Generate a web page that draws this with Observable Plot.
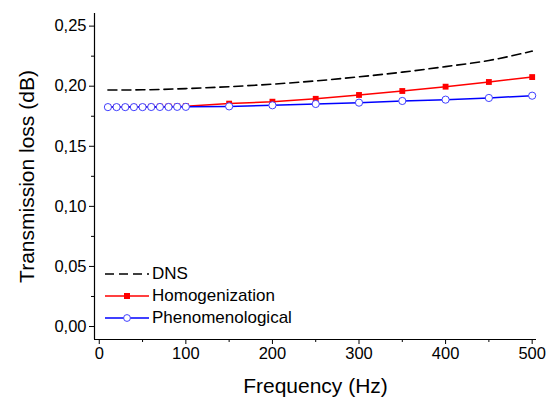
<!DOCTYPE html>
<html>
<head>
<meta charset="utf-8">
<script src="https://cdn.jsdelivr.net/npm/d3@7"></script>
<script src="https://cdn.jsdelivr.net/npm/@observablehq/plot@0.6"></script>
<style>
  html, body { margin: 0; padding: 0; background: #fff; }
  #wrap { position: relative; width: 555px; height: 403px; font-family: "Liberation Sans", Arial, sans-serif; }
  #legend { position: absolute; left: 104px; top: 262.5px; font-size: 17px; color: #000; }
  #legend .row { display: flex; align-items: center; height: 22px; }
  #legend svg { display: block; margin-right: 2px; }
</style>
</head>
<body>
<div id="wrap"></div>
<script>
// ---- data ----
const freq = [10, 20, 30, 40, 50, 60, 70, 80, 90, 100, 150, 200, 250, 300, 350, 400, 450, 500];
const homogenization = [0.1827, 0.1827, 0.1827, 0.1828, 0.1828, 0.1829, 0.1830, 0.1831, 0.1832, 0.1834, 0.1855, 0.1871, 0.1895, 0.1927, 0.1960, 0.1996, 0.2035, 0.2076];
const phenomenological = [0.1826, 0.1826, 0.1826, 0.1826, 0.1826, 0.1827, 0.1827, 0.1827, 0.1828, 0.1828, 0.1832, 0.1841, 0.1852, 0.1863, 0.1877, 0.1888, 0.1902, 0.1921];
const dnsFreq = [10, 50, 100, 150, 200, 250, 300, 350, 400, 450, 500];
const dns = [0.1968, 0.1970, 0.1980, 0.1996, 0.2017, 0.2044, 0.2078, 0.2117, 0.2163, 0.2214, 0.2292];
const xTicks = [0, 100, 200, 300, 400, 500];
const xMinor = [50, 150, 250, 350, 450];
const yTicks = [0, 0.05, 0.10, 0.15, 0.20, 0.25];
const yMinor = [0.025, 0.075, 0.125, 0.175, 0.225];
const seriesNames = ["DNS", "Homogenization", "Phenomenological"];

const xDomain = [-5.5, 505];
const yDomain = [-0.0108, 0.2605];

const homData = freq.map((f, i) => ({f, v: homogenization[i]}));
const phenData = freq.map((f, i) => ({f, v: phenomenological[i]}));
const dnsData = dnsFreq.map((f, i) => ({f, v: dns[i]}));

const fmt = d => d.toFixed(2).replace(".", ",");

const chart = Plot.plot({
  width: 555,
  height: 403,
  marginLeft: 94,
  marginRight: 19,
  marginTop: 13,
  marginBottom: 64,
  style: {fontFamily: "'Liberation Sans', Arial, sans-serif", fontSize: "16.5px", color: "#000", background: "#fff"},
  x: {domain: xDomain},
  y: {domain: yDomain},
  marks: [
    Plot.ruleX([xDomain[0]], {stroke: "#000", strokeWidth: 1.2}),
    Plot.ruleY([yDomain[0]], {stroke: "#000", strokeWidth: 1.2}),
    Plot.axisX({ticks: xTicks, tickSize: 5, tickPadding: 3, tickFormat: d => String(d), fontSize: 16.5,
      label: "Frequency (Hz)", labelAnchor: "center", labelOffset: 53, labelArrow: "none"}),
    Plot.axisX({ticks: xMinor, tickSize: 3, tickFormat: () => "", label: null}),
    Plot.axisY({ticks: yTicks, tickSize: 5, tickPadding: 3, tickFormat: fmt, fontSize: 16.5,
      label: "Transmission loss (dB)", labelAnchor: "center", labelOffset: 75, labelArrow: "none"}),
    Plot.axisY({ticks: yMinor, tickSize: 3, tickFormat: () => "", label: null}),
    Plot.line(dnsData, {x: "f", y: "v", stroke: "#000", strokeWidth: 1.6, strokeDasharray: "9,5", curve: "monotone-x"}),
    Plot.line(homData, {x: "f", y: "v", stroke: "#ff0000", strokeWidth: 1.5}),
    Plot.dot(homData, {x: "f", y: "v", symbol: "square", r: 3.3, fill: "#ff0000", stroke: "none"}),
    Plot.line(phenData, {x: "f", y: "v", stroke: "#0000ff", strokeWidth: 1.5}),
    Plot.dot(phenData, {x: "f", y: "v", symbol: "circle", r: 3.6, fill: "#fff", stroke: "#4040ff", strokeWidth: 1})
  ]
});

// enlarge axis titles
chart.querySelectorAll("[aria-label='x-axis label'], [aria-label='y-axis label']").forEach(g => {
  g.setAttribute("font-size", "21px");
  g.querySelectorAll("text").forEach(t => t.setAttribute("font-size", "21px"));
});

const wrap = document.getElementById("wrap");
wrap.appendChild(chart);

// legend
const legend = document.createElement("div");
legend.id = "legend";
const samples = [
  `<svg width="46" height="10"><line x1="1" y1="5" x2="45" y2="5" stroke="#000" stroke-width="1.6" stroke-dasharray="9,5"/></svg>`,
  `<svg width="46" height="10"><line x1="1" y1="5" x2="45" y2="5" stroke="#ff0000" stroke-width="1.5"/><rect x="20" y="2" width="6" height="6" fill="#ff0000"/></svg>`,
  `<svg width="46" height="10"><line x1="1" y1="5" x2="45" y2="5" stroke="#0000ff" stroke-width="1.5"/><circle cx="23" cy="5" r="3.4" fill="#fff" stroke="#4040ff"/></svg>`
];
seriesNames.forEach((name, i) => {
  const row = document.createElement("div");
  row.className = "row";
  row.innerHTML = samples[i] + `<span>${name}</span>`;
  legend.appendChild(row);
});
wrap.appendChild(legend);
</script>
</body>
</html>
